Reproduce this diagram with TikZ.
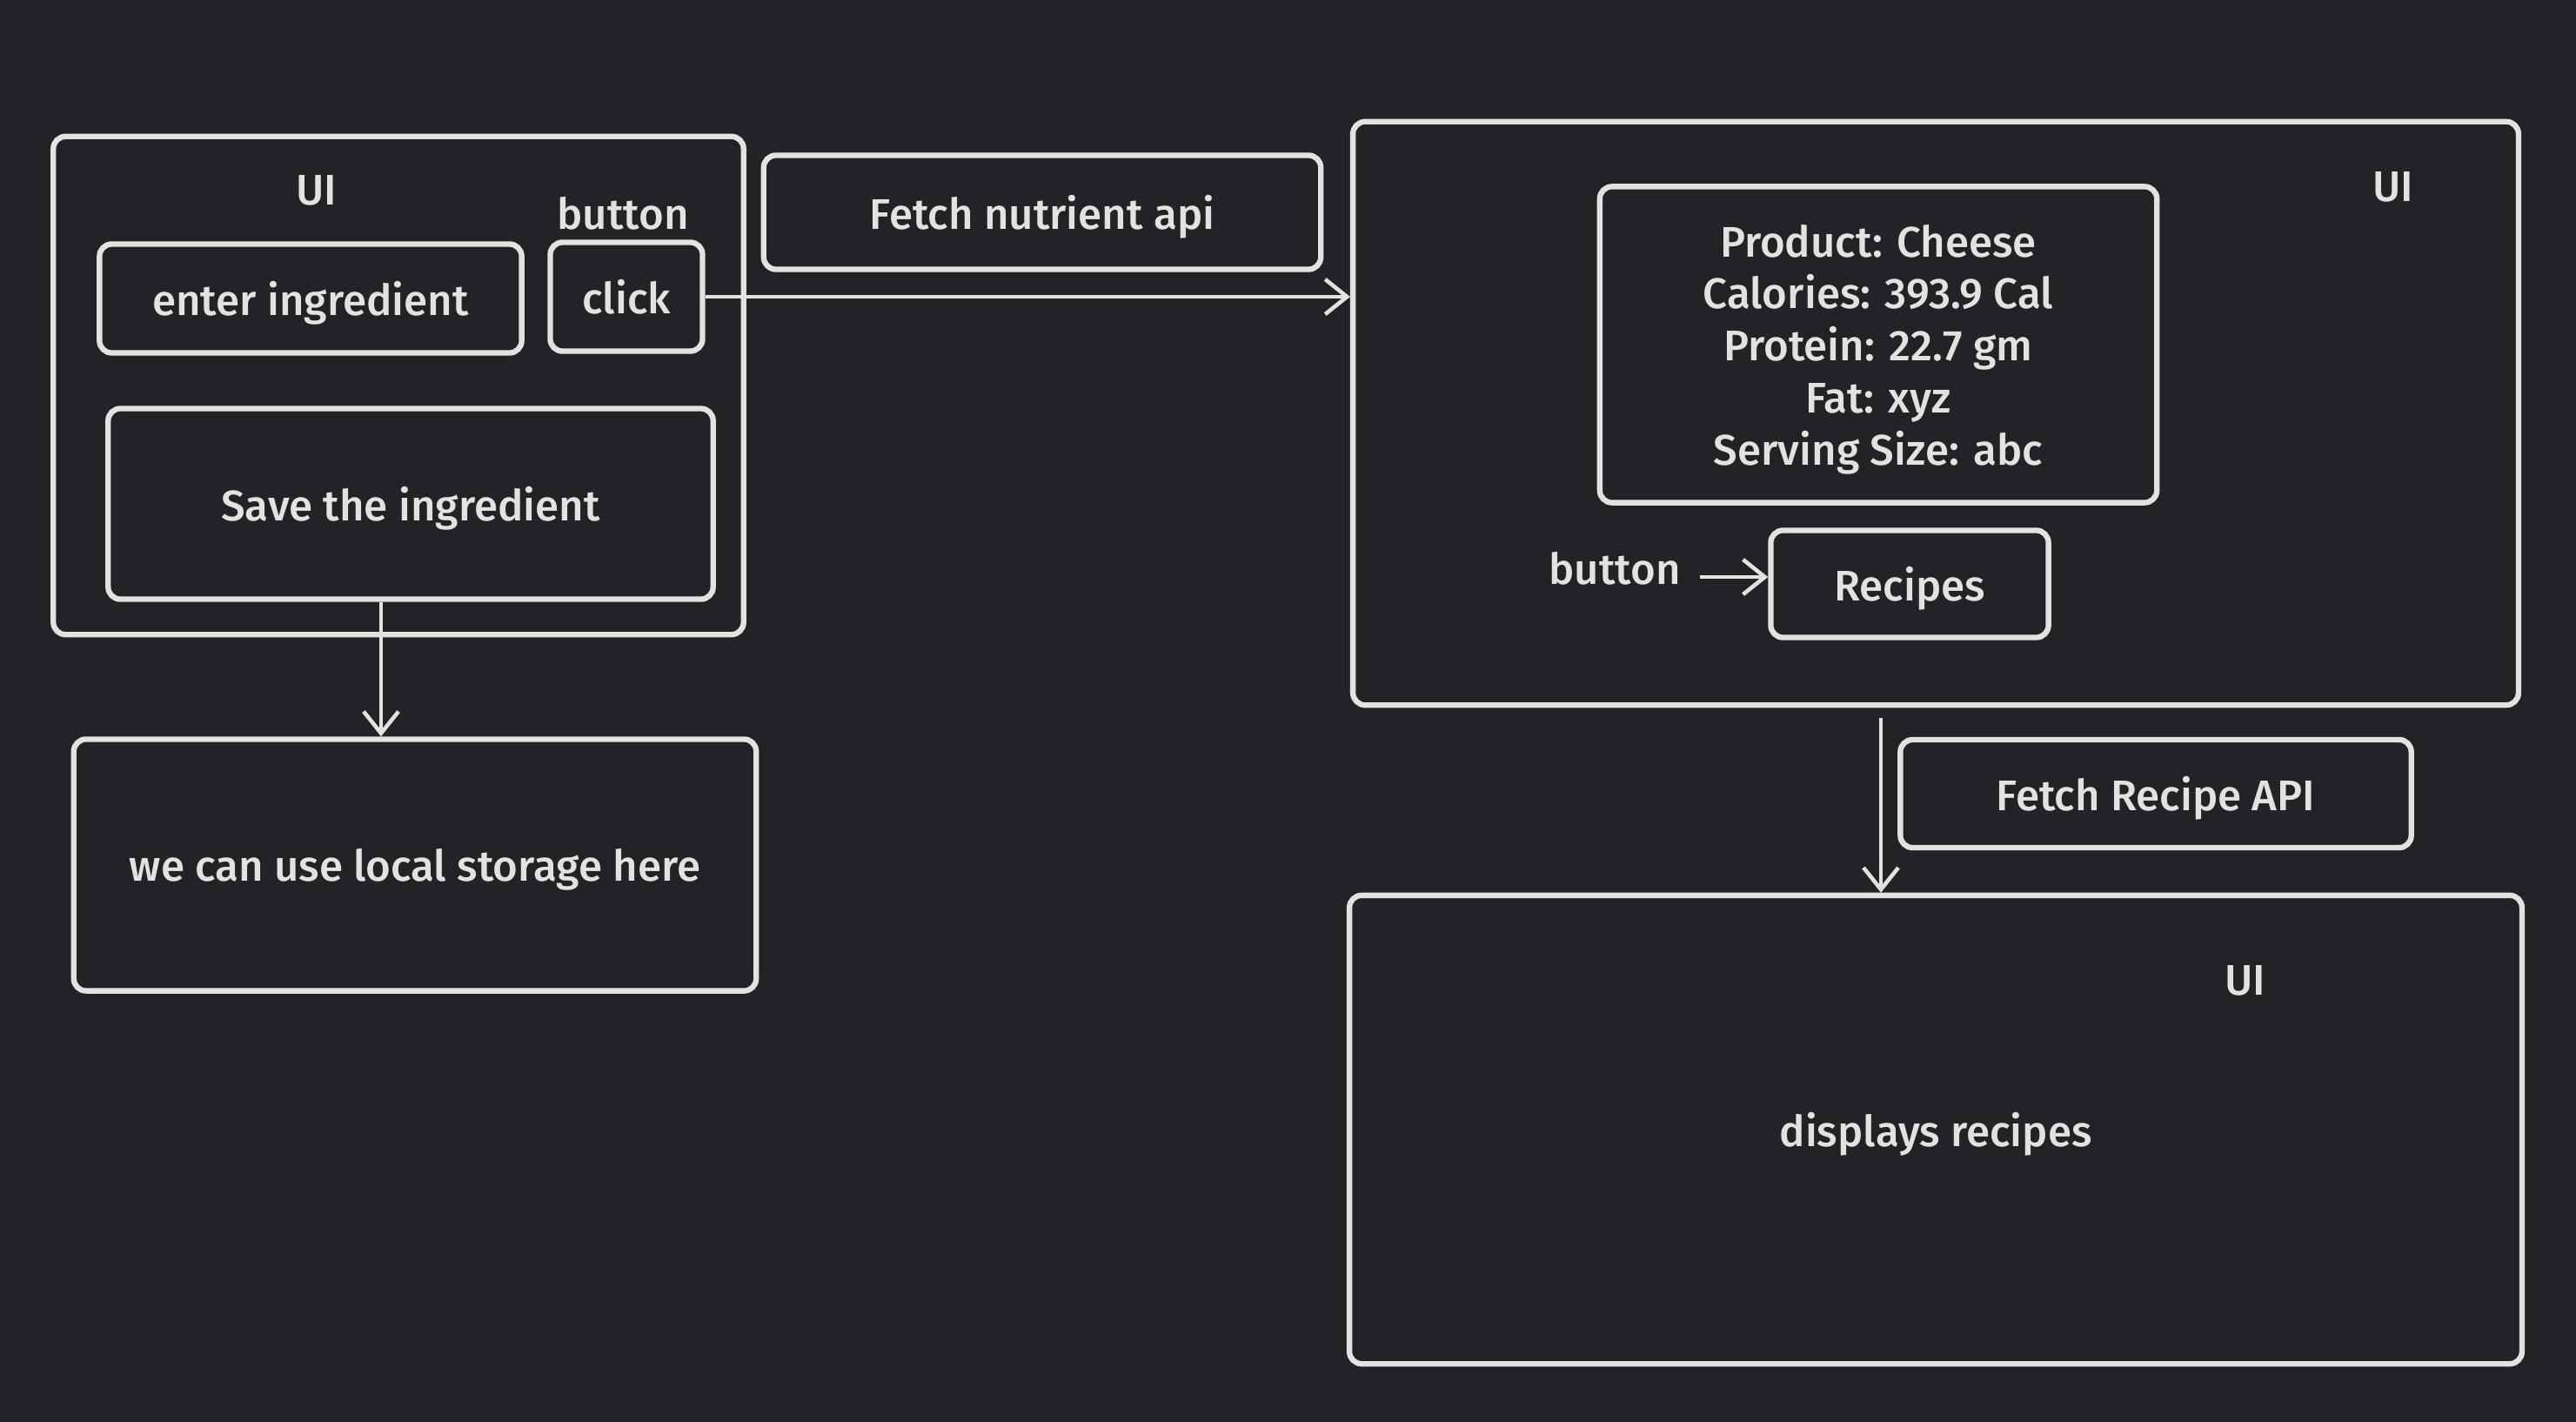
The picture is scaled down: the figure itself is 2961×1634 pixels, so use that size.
\documentclass[tikz,border=0pt]{standalone}
\usepackage{fontspec}
\setmainfont{Fira Sans Medium}
\usepackage{xcolor}
\usepackage{tikz}
\usetikzlibrary{arrows.meta}
\usetikzlibrary{calc}
\definecolor{bg}{RGB}{33,35,39}
\definecolor{fg}{RGB}{226,226,226}

\begin{document}
\begin{tikzpicture}[x=0.01cm,y=-0.01cm]
\tikzset{every box/.style={draw=fg, line width=1.8pt, rounded corners=4pt, inner sep=0pt, align=center, text=fg, text depth=0pt, font=\fontsize{14}{17}\selectfont}}
\tikzset{every tag/.style={text=fg, inner sep=1pt, font=\fontsize{14}{17}\selectfont}}
\tikzset{every link/.style={draw=fg, line width=1.3pt, -{Straight Barb[length=2.5mm,width=4mm,line width=1.3pt]}}}

   \fill [bg] (0,0) rectangle (2961,1634);
   \useasboundingbox (0,0) rectangle (2961,1634);

   \node [every box, minimum width=7.93cm, minimum height=5.72cm] (ui1) at (458,443) {};
   \node [every tag] (ui1tag) at (364,219) {UI};
   \node [every tag] (btntag) at (716,245) {button};
   \node [every box, minimum width=4.85cm, minimum height=1.25cm] (enter) at (357,343) {enter ingredient};
   \node [every box, minimum width=1.75cm, minimum height=1.25cm] (click) at (720,341) {click};
   \node [every box, minimum width=6.95cm, minimum height=2.19cm] (save) at (472,579) {Save the ingredient};
   \node [every box, minimum width=7.84cm, minimum height=2.89cm] (store) at (477,994) {we can use local storage here};
   \node [every box, minimum width=6.40cm, minimum height=1.31cm] (fetchnut) at (1198,244) {Fetch nutrient api};

   \node [every box, minimum width=13.39cm, minimum height=6.70cm] (ui2) at (2225,475) {};
   \node [every tag] (ui2tag) at (2751,215) {UI};
   \node [every box, minimum width=6.40cm, minimum height=3.63cm] (info) at (2159,396)
      {Product: Cheese\\Calories: 393.9 Cal\\Protein: 22.7 gm\\Fat: xyz\\Serving Size: abc};
   \node [every box, minimum width=3.19cm, minimum height=1.23cm] (recipes) at (2195,671) {Recipes};
   \node [every tag] (btn2tag) at (1856,653) {button};

   \node [every box, minimum width=5.87cm, minimum height=1.24cm] (fetchrec) at (2478,912) {Fetch Recipe API};
   \node [every box, minimum width=13.47cm, minimum height=5.38cm] (ui3) at (2225,1298) {displays recipes};
   \node [every tag] (ui3tag) at (2581,1127) {UI};

   \coordinate (down1) at (438,0);
   \coordinate (down2) at (2162,0);
   \draw [every link] (click.east) -- (click.east -| ui2.west);
   \draw [every link] (save.south -| down1) -- (store.north -| down1);
   \draw [every link] ([xshift=1.8mm,yshift=-1mm]btn2tag.east) -- ([yshift=-1mm]btn2tag.east -| recipes.west);
   \draw [every link] ([yshift=-1.2mm]ui2.south -| down2) -- (ui3.north -| down2);
\end{tikzpicture}
\end{document}
